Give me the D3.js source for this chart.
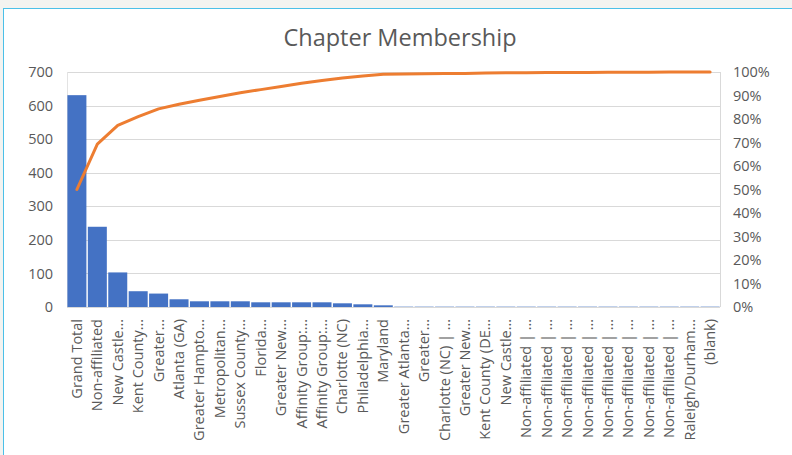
<!DOCTYPE html>
<html>
<head>
<meta charset="utf-8">
<script src="https://cdn.jsdelivr.net/npm/d3@7"></script>
<style>
  body { margin: 0; background: #f3f3f0; overflow: hidden; }
  #frame { position: absolute; left: 3px; top: 8px; width: 800px; height: 460px;
           background: #fff; border-left: 1px solid #4cc0e8; border-top: 1px solid #4cc0e8; }
  svg { position: absolute; left: 0; top: 0; }
  text { font-family: "Open Sans", sans-serif; fill: #595959; }
</style>
</head>
<body>
<div id="frame"></div>
<script>
/* ---------- données ---------- */
var categories = ["Grand Total", "Non-affiliated", "New Castle…", "Kent County…", "Greater…",
  "Atlanta (GA)", "Greater Hampto…", "Metropolitan…", "Sussex County…", "Florida…",
  "Greater New…", "Affinity Group:…", "Affinity Group:…", "Charlotte (NC)", "Philadelphia…",
  "Maryland", "Greater Atlanta…", "Greater…", "Charlotte (NC) | …", "Greater New…",
  "Kent County (DE…", "New Castle…", "Non-affiliated | …", "Non-affiliated | …",
  "Non-affiliated | …", "Non-affiliated | …", "Non-affiliated | …", "Non-affiliated | …",
  "Non-affiliated | …", "Non-affiliated | …", "Raleigh/Durham…", "(blank)"];

var members = [631, 239, 103, 47, 40, 23, 17, 17, 17, 14, 14, 14, 14, 11, 8, 5,
  1, 1, 1, 1, 1, 1, 1, 1, 1, 1, 1, 1, 1, 1, 1, 1];

// pourcentage cumulé
var cumulPct = [50.0, 69.3, 77.3, 81.0, 84.3, 86.3, 88.0, 89.6, 91.2, 92.5, 93.8, 95.2,
  96.4, 97.4, 98.3, 99.0, 99.1, 99.3, 99.4, 99.4, 99.6, 99.7, 99.7, 99.8, 99.8, 99.8,
  99.9, 99.9, 99.9, 100, 100, 100];

var leftTicks = [0, 100, 200, 300, 400, 500, 600, 700];
var rightTicks = [0, 10, 20, 30, 40, 50, 60, 70, 80, 90, 100];

/* ---------- dimensions ---------- */
var width = 792, height = 455;
var plotLeft = 67, plotRight = 720, plotTop = 72, plotBottom = 307;

var svg = d3.select("body").append("svg")
    .attr("width", width)
    .attr("height", height);

// titre
svg.append("text")
    .attr("x", 400)
    .attr("y", 46)
    .attr("text-anchor", "middle")
    .style("font-size", "23.5px")
    .text("Chapter Membership");

/* ---------- échelles ---------- */
var xscale = d3.scaleBand()
    .domain(d3.range(categories.length))
    .range([plotLeft, plotRight])
    .paddingInner(0.07)
    .paddingOuter(0.02);

var yscale = d3.scaleLinear().domain([0, 700]).range([plotBottom, plotTop]);
var yscale2 = d3.scaleLinear().domain([0, 100]).range([plotBottom, plotTop]);

// grille
svg.append("g")
    .selectAll("line")
    .data(leftTicks)
    .enter()
    .append("line")
    .attr("x1", plotLeft).attr("x2", plotRight)
    .attr("y1", function (d) { return Math.round(yscale(d)) + 0.5; })
    .attr("y2", function (d) { return Math.round(yscale(d)) + 0.5; })
    .attr("stroke", "#d9d9d9");

svg.append("line")
    .attr("x1", plotLeft + 0.5).attr("x2", plotLeft + 0.5)
    .attr("y1", plotTop).attr("y2", plotBottom)
    .attr("stroke", "#e3e3e3");
svg.append("line")
    .attr("x1", plotRight + 0.5).attr("x2", plotRight + 0.5)
    .attr("y1", plotTop).attr("y2", plotBottom)
    .attr("stroke", "#d9d9d9");

// axe gauche
var y_axis = d3.axisLeft(yscale).tickValues(leftTicks).tickSize(0).tickPadding(0);
var gy = svg.append("g")
    .attr("transform", "translate(53,0)")
    .call(y_axis);
gy.select(".domain").remove();
gy.selectAll("text").style("font-size", "14.5px").attr("fill", "#595959")
    .style("font-family", "'Open Sans', sans-serif");

// axe droit
var y_axis2 = d3.axisRight(yscale2).tickValues(rightTicks)
    .tickFormat(function (d) { return d + "%"; })
    .tickSize(0).tickPadding(0);
var gy2 = svg.append("g")
    .attr("transform", "translate(733,0)")
    .call(y_axis2);
gy2.select(".domain").remove();
gy2.selectAll("text").style("font-size", "14.5px").attr("fill", "#595959")
    .style("font-family", "'Open Sans', sans-serif");

// barres
svg.append("g")
    .selectAll("rect")
    .data(members)
    .enter()
    .append("rect")
    .attr("x", function (d, i) { return xscale(i); })
    .attr("y", function (d) { return yscale(d); })
    .attr("width", xscale.bandwidth())
    .attr("height", function (d) { return plotBottom - yscale(d); })
    .attr("fill", "#4472c4");

// courbe cumulée
var line = d3.line()
    .x(function (d, i) { return xscale(i) + xscale.bandwidth() / 2; })
    .y(function (d) { return yscale2(d); });

svg.append("path")
    .datum(cumulPct)
    .attr("d", line)
    .attr("fill", "none")
    .attr("stroke", "#ed7d31")
    .attr("stroke-width", 3)
    .attr("stroke-linejoin", "round")
    .attr("stroke-linecap", "round");

// étiquettes des catégories
svg.append("g")
    .selectAll("text")
    .data(categories)
    .enter()
    .append("text")
    .attr("transform", function (d, i) {
        return "translate(" + (xscale(i) + xscale.bandwidth() / 2 + 5) + ",319) rotate(-90)";
    })
    .attr("text-anchor", "end")
    .style("font-size", "14.5px")
    .text(function (d) { return d; });
</script>
</body>
</html>
